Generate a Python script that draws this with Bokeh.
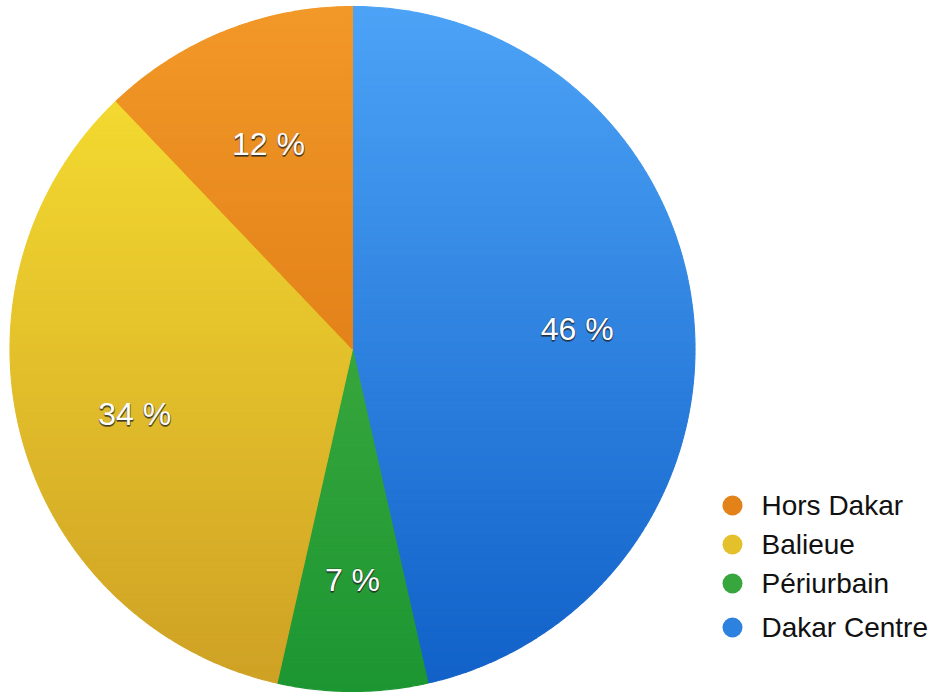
import numpy as np
from bokeh.plotting import figure
from bokeh.models import Range1d, ColumnDataSource
from bokeh.embed import file_html
from bokeh.resources import INLINE
from bokeh.core.properties import value

# ---- data ----
categories = ["Dakar Centre", "Périurbain", "Balieue", "Hors Dakar"]
shares = [46, 7, 34, 12]
pct_labels = ["46 %", "7 %", "34 %", "12 %"]
legend_order = ["Hors Dakar", "Balieue", "Périurbain", "Dakar Centre"]

# ---- style ----
top_col = {"Dakar Centre": (76, 163, 246), "Périurbain": (82, 182, 70),
           "Balieue": (249, 226, 50), "Hors Dakar": (242, 152, 40)}
bot_col = {"Dakar Centre": (16, 96, 200), "Périurbain": (28, 150, 50),
           "Balieue": (206, 160, 36), "Hors Dakar": (212, 108, 10)}
FONT = "Liberation Sans"

W, H = 938, 692
cx, cy, R = 352.0, 348.5, 342.5

p = figure(width=W, height=H, x_range=Range1d(0, W), y_range=Range1d(H, 0),
           output_backend="svg", toolbar_location=None,
           x_axis_location=None, y_axis_location=None,
           min_border=0, min_border_left=0, min_border_right=0,
           min_border_top=0, min_border_bottom=0)
p.outline_line_color = None
p.xgrid.visible = False
p.ygrid.visible = False
p.background_fill_color = "white"


def mix(a, b, t):
    return "#%02x%02x%02x" % tuple(int(round(a[i] + (b[i] - a[i]) * t)) for i in range(3))


def clip(poly, yv, keep_greater):
    out = []
    n = len(poly)
    for i in range(n):
        P = poly[i]
        Q = poly[(i + 1) % n]
        pin = P[1] >= yv if keep_greater else P[1] <= yv
        qin = Q[1] >= yv if keep_greater else Q[1] <= yv
        if pin:
            out.append(P)
        if pin != qin:
            t = (yv - P[1]) / (Q[1] - P[1])
            out.append((P[0] + t * (Q[0] - P[0]), yv))
    return out


total = float(sum(shares))
cum = np.cumsum([0] + shares) / total * 2 * np.pi  # clockwise from top

xs_all, ys_all, cols_all = [], [], []
label_x, label_y = [], []
NB = 140
band_edges = np.linspace(cy - R, cy + R, NB + 1)
for k, cat in enumerate(categories):
    a0, a1 = cum[k], cum[k + 1]
    ang = np.linspace(a0, a1, max(8, int((a1 - a0) / (2 * np.pi) * 600)))
    poly = [(cx, cy)] + [(cx + R * np.sin(a), cy - R * np.cos(a)) for a in ang]
    for b in range(NB):
        y0, y1 = band_edges[b], band_edges[b + 1]
        pc = clip(poly, y0, True)
        if len(pc) < 3:
            continue
        pc = clip(pc, y1, False)
        if len(pc) < 3:
            continue
        t = ((y0 + y1) / 2 - (cy - R)) / (2 * R)
        xs_all.append([q[0] for q in pc])
        ys_all.append([q[1] for q in pc])
        cols_all.append(mix(top_col[cat], bot_col[cat], t))
    am = (a0 + a1) / 2
    label_x.append(cx + 0.66 * R * np.sin(am))
    label_y.append(cy - 0.66 * R * np.cos(am))

p.patches(xs="xs", ys="ys", fill_color="c", line_color="c", line_width=1.1,
          source=ColumnDataSource(dict(xs=xs_all, ys=ys_all, c=cols_all)))

lab_src = ColumnDataSource(dict(x=label_x, y=label_y, t=pct_labels))
for dx, dy, al in [(0.0, 2.0, 0.55), (1.0, 1.2, 0.45), (-0.8, 1.2, 0.35), (0.0, -0.6, 0.25)]:
    p.text(x="x", y="y", text="t", source=lab_src, text_font=value(FONT),
           text_font_size="32px", text_align="center", text_baseline="middle",
           text_color="#202020", text_alpha=al, x_offset=dx, y_offset=5 + dy)
p.text(x="x", y="y", text="t", source=lab_src, text_font=value(FONT),
       text_font_size="32px", text_align="center", text_baseline="middle",
       text_color="white", y_offset=5)

# ---- legend ----
leg_y = [505, 544, 583, 627]
leg_cols = [mix(top_col[c], bot_col[c], 0.5) for c in legend_order]
p.scatter(x=[732] * 4, y=leg_y, size=20, marker="circle",
          fill_color=leg_cols, line_color=None)
p.text(x=[761] * 4, y=leg_y, text=legend_order, text_font=value(FONT),
       text_font_size="28px", text_align="left", text_baseline="middle",
       text_color="#111111")

open("out.html", "w").write(file_html(p, INLINE))
